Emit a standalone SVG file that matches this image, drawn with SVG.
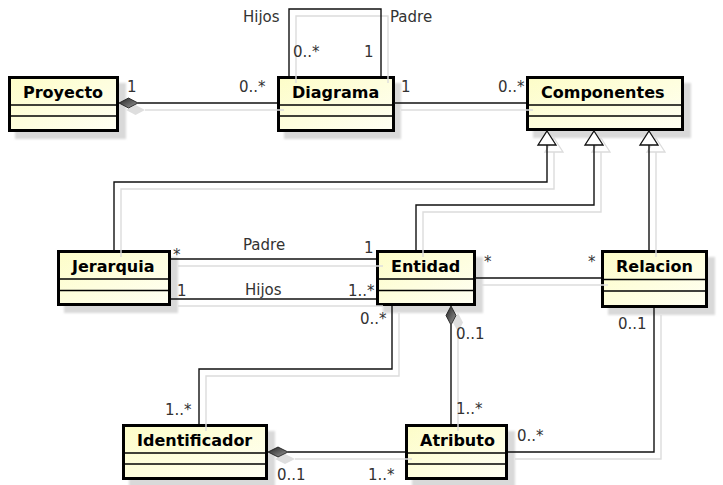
<svg xmlns="http://www.w3.org/2000/svg" width="723" height="485" viewBox="0 0 723 485">
<defs>
<linearGradient id="fill" x1="0" y1="0" x2="1" y2="1">
<stop offset="0" stop-color="#fdfdc8"/>
<stop offset="1" stop-color="#fffff4"/>
</linearGradient>
<linearGradient id="dia" x1="0" y1="0" x2="1" y2="1">
<stop offset="0" stop-color="#222"/>
<stop offset="1" stop-color="#9a9a9a"/>
</linearGradient>
<filter id="blur" x="-10%" y="-10%" width="120%" height="120%"><feGaussianBlur stdDeviation="0.8"/></filter>
<style>
.sh{fill:#d9d9d9;filter:url(#blur)}
.box{fill:url(#fill);stroke:#000;stroke-width:3}
.div{stroke:#000;stroke-width:1.3}
.name{font-family:"DejaVu Sans",sans-serif;font-weight:bold;font-size:16px;fill:#000}
.lbl{font-family:"DejaVu Sans",sans-serif;font-size:15px;fill:#333}
.ln{fill:none;stroke:#111;stroke-width:1.4}
.lns{fill:none;stroke:#dcdcdc;stroke-width:1.4}
.dm{fill:url(#dia);stroke:#111;stroke-width:0.8}
.dms{fill:#dedede}
.tri{fill:#fff;stroke:#111;stroke-width:1.3}
.tris{fill:none;stroke:#dcdcdc;stroke-width:1.3}
</style>
</defs>
<rect width="723" height="485" fill="#fff"/>

<g id="shadows">
<rect class="sh" x="15" y="83" width="111" height="56"/>
<rect class="sh" x="284" y="83" width="117" height="56"/>
<rect class="sh" x="533" y="83" width="158" height="55"/>
<rect class="sh" x="64" y="257" width="114" height="56"/>
<rect class="sh" x="383" y="257" width="100" height="56"/>
<rect class="sh" x="608" y="257" width="107" height="58"/>
<rect class="sh" x="129" y="431" width="146" height="56"/>
<rect class="sh" x="412" y="431" width="103" height="56"/>
</g>

<g id="node-proyecto">
<rect class="box" x="9.5" y="77.5" width="108" height="53"/>
<line class="div" x1="9.5" y1="105" x2="117.5" y2="105"/>
<line class="div" x1="9.5" y1="116" x2="117.5" y2="116"/>
<text class="name" x="23" y="98">Proyecto</text>
</g>
<g id="node-diagrama">
<rect class="box" x="278.5" y="77.5" width="115" height="53"/>
<line class="div" x1="278.5" y1="105" x2="393.5" y2="105"/>
<line class="div" x1="278.5" y1="116" x2="393.5" y2="116"/>
<text class="name" x="292" y="98">Diagrama</text>
</g>
<g id="node-componentes">
<rect class="box" x="527.5" y="77.5" width="155" height="52"/>
<line class="div" x1="527.5" y1="105" x2="682.5" y2="105"/>
<line class="div" x1="527.5" y1="116" x2="682.5" y2="116"/>
<text class="name" x="541" y="98">Componentes</text>
</g>
<g id="node-jerarquia">
<rect class="box" x="58.5" y="251.5" width="111" height="53"/>
<line class="div" x1="58.5" y1="279" x2="169.5" y2="279"/>
<line class="div" x1="58.5" y1="290.5" x2="169.5" y2="290.5"/>
<text class="name" x="72" y="272">Jerarquia</text>
</g>
<g id="node-entidad">
<rect class="box" x="377.5" y="251.5" width="97" height="53"/>
<line class="div" x1="377.5" y1="279" x2="474.5" y2="279"/>
<line class="div" x1="377.5" y1="290.5" x2="474.5" y2="290.5"/>
<text class="name" x="391" y="272">Entidad</text>
</g>
<g id="node-relacion">
<rect class="box" x="602.5" y="251.5" width="104" height="55"/>
<line class="div" x1="602.5" y1="279.5" x2="706.5" y2="279.5"/>
<line class="div" x1="602.5" y1="291" x2="706.5" y2="291"/>
<text class="name" x="616" y="272">Relacion</text>
</g>
<g id="node-identificador">
<rect class="box" x="123.5" y="425.5" width="143" height="53"/>
<line class="div" x1="123.5" y1="453" x2="266.5" y2="453"/>
<line class="div" x1="123.5" y1="464" x2="266.5" y2="464"/>
<text class="name" x="137" y="446">Identificador</text>
</g>
<g id="node-atributo">
<rect class="box" x="406.5" y="425.5" width="100" height="53"/>
<line class="div" x1="406.5" y1="453" x2="506.5" y2="453"/>
<line class="div" x1="406.5" y1="464" x2="506.5" y2="464"/>
<text class="name" x="420" y="446">Atributo</text>
</g>

<g id="connectors">
<g transform="translate(7,7)">
<polyline class="lns" points="138,103 277,103"/>
<polygon class="dms" points="119,103 128.5,98 138,103 128.5,108"/>
<polyline class="lns" points="394,103 526,103"/>
<polyline class="lns" points="289,76 289,9 381,9 381,76"/>
<polygon class="tris" points="547,131 556,145 538,145"/>
<polygon class="tris" points="594,131 603,145 585,145"/>
<polygon class="tris" points="649,131 658,145 640,145"/>
<polyline class="lns" points="547,145 547,182 114,182 114,250"/>
<polyline class="lns" points="594,145 594,205 416,205 416,250"/>
<polyline class="lns" points="649,145 649,250"/>
<polyline class="lns" points="171,259 376,259"/>
<polyline class="lns" points="171,299 376,299"/>
<polyline class="lns" points="475,278 601,278"/>
<polyline class="lns" points="392,306 392,369 199,369 199,424"/>
<polyline class="lns" points="451,325 451,424"/>
<polygon class="dms" points="451,306 456,315.5 451,325 446,315.5"/>
<polyline class="lns" points="288,452 405,452"/>
<polygon class="dms" points="268,452 278,447 288,452 278,457"/>
<polyline class="lns" points="654,308 654,452 508,452"/>
</g>
<polyline class="ln" points="138,103 277,103"/>
<polygon class="dm" points="119,103 128.5,98 138,103 128.5,108"/>
<polyline class="ln" points="394,103 526,103"/>
<polyline class="ln" points="289,76 289,9 381,9 381,76"/>
<polyline class="ln" points="547,145 547,182 114,182 114,250"/>
<polyline class="ln" points="594,145 594,205 416,205 416,250"/>
<polyline class="ln" points="649,145 649,250"/>
<polygon class="tri" points="547,131 556,145 538,145"/>
<polygon class="tri" points="594,131 603,145 585,145"/>
<polygon class="tri" points="649,131 658,145 640,145"/>
<polyline class="ln" points="171,259 376,259"/>
<polyline class="ln" points="171,299 376,299"/>
<polyline class="ln" points="475,278 601,278"/>
<polyline class="ln" points="392,306 392,369 199,369 199,424"/>
<polyline class="ln" points="451,325 451,424"/>
<polygon class="dm" points="451,306 456,315.5 451,325 446,315.5"/>
<polyline class="ln" points="288,452 405,452"/>
<polygon class="dm" points="268,452 278,447 288,452 278,457"/>
<polyline class="ln" points="654,308 654,452 508,452"/>

<text class="lbl" x="243" y="22">Hijos</text>
<text class="lbl" x="390" y="22">Padre</text>
<text class="lbl" x="293" y="57">0..*</text>
<text class="lbl" x="364" y="57">1</text>
<text class="lbl" x="127" y="92">1</text>
<text class="lbl" x="239" y="92">0..*</text>
<text class="lbl" x="401" y="92">1</text>
<text class="lbl" x="498" y="92">0..*</text>
<text class="lbl" x="173" y="260">*</text>
<text class="lbl" x="243" y="250">Padre</text>
<text class="lbl" x="364" y="253">1</text>
<text class="lbl" x="177" y="296">1</text>
<text class="lbl" x="245" y="295">Hijos</text>
<text class="lbl" x="348" y="296">1..*</text>
<text class="lbl" x="484" y="267">*</text>
<text class="lbl" x="588" y="267">*</text>
<text class="lbl" x="360" y="324">0..*</text>
<text class="lbl" x="456" y="339">0..1</text>
<text class="lbl" x="618" y="329">0..1</text>
<text class="lbl" x="165" y="415">1..*</text>
<text class="lbl" x="456" y="414">1..*</text>
<text class="lbl" x="517" y="441">0..*</text>
<text class="lbl" x="277" y="480">0..1</text>
<text class="lbl" x="368" y="480">1..*</text>
</g>
</svg>
